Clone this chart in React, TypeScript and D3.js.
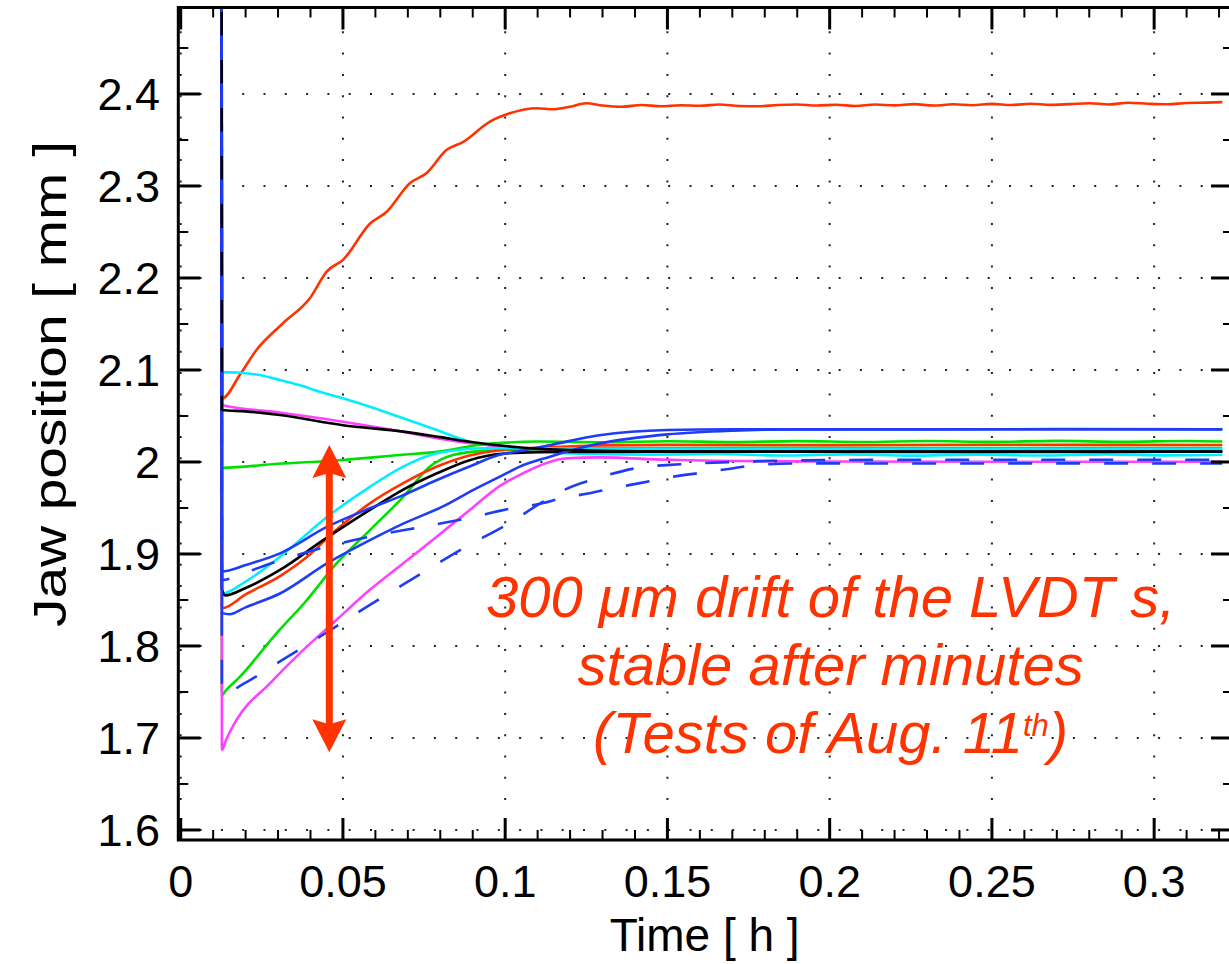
import React from "react";
import * as d3 from "d3";

type Pt = [number, number];

// ---------- data (time [h], jaw position [mm]) ----------
const SPIKE_TIME = 0.01262;
const SPIKE_VALUE = 2.62;

const redUpper: Pt[] = [
  [0.0127, 2.069], [0.0183, 2.095], [0.0234, 2.122], [0.0316, 2.151], [0.0398, 2.178],
  [0.045, 2.207], [0.0501, 2.22], [0.0583, 2.259], [0.0635, 2.272], [0.0706, 2.303],
  [0.0758, 2.314], [0.0819, 2.339], [0.0871, 2.348], [0.0953, 2.37], [0.1014, 2.379],
  [0.1097, 2.3845], [0.1148, 2.3834], [0.12, 2.3862], [0.125, 2.3899], [0.13, 2.3875],
  [0.136, 2.3862], [0.142, 2.388], [0.148, 2.3866], [0.154, 2.3878], [0.16, 2.3872],
  [0.166, 2.3885], [0.172, 2.387], [0.178, 2.3866], [0.184, 2.388], [0.19, 2.3886],
  [0.196, 2.3874], [0.202, 2.3883], [0.208, 2.387], [0.214, 2.3886], [0.22, 2.3876],
  [0.226, 2.389], [0.232, 2.3874], [0.238, 2.3888], [0.244, 2.3878], [0.25, 2.3892],
  [0.256, 2.388], [0.262, 2.3894], [0.268, 2.3882], [0.274, 2.389], [0.28, 2.39],
  [0.286, 2.3886], [0.292, 2.3904], [0.298, 2.3894], [0.304, 2.3888], [0.31, 2.3902],
  [0.316, 2.3906], [0.321, 2.3912],
];

const cyanUpper: Pt[] = [
  [0.0127, 2.0975], [0.0172, 2.0972], [0.0234, 2.095], [0.0306, 2.089], [0.037, 2.083],
  [0.0429, 2.0764], [0.05, 2.0692], [0.0583, 2.06], [0.0686, 2.0475], [0.0789, 2.0348],
  [0.0891, 2.022], [0.0994, 2.016], [0.11, 2.0115], [0.125, 2.0088], [0.145, 2.008],
  [0.165, 2.0086], [0.185, 2.0071], [0.205, 2.0082], [0.225, 2.0069], [0.245, 2.008],
  [0.265, 2.007], [0.285, 2.0083], [0.305, 2.0072], [0.321, 2.0078],
];

const magentaUpper: Pt[] = [
  [0.0127, 2.062], [0.03, 2.054], [0.05, 2.0438], [0.065, 2.035], [0.079, 2.0258],
  [0.09, 2.02], [0.0994, 2.0167], [0.11, 2.0135], [0.13, 2.0124], [0.18, 2.0121],
  [0.24, 2.0123], [0.321, 2.0121],
];

const blackUpper: Pt[] = [
  [0.0127, 2.0565], [0.02, 2.055], [0.0306, 2.051], [0.05, 2.04], [0.0686, 2.033],
  [0.08, 2.027], [0.089, 2.022], [0.104, 2.016], [0.12, 2.013], [0.15, 2.0115],
  [0.2, 2.0112], [0.25, 2.0113], [0.321, 2.0112],
];

const greenFlat: Pt[] = [
  [0.0127, 1.9938], [0.03, 1.998], [0.05, 2.0022], [0.0676, 2.0076], [0.079, 2.011],
  [0.093, 2.019], [0.1, 2.021], [0.11, 2.0222], [0.13, 2.0215], [0.15, 2.0226],
  [0.17, 2.0216], [0.19, 2.0227], [0.21, 2.0217], [0.23, 2.0228], [0.25, 2.0218],
  [0.27, 2.0229], [0.29, 2.0219], [0.31, 2.0228], [0.321, 2.0222],
];

const greenSteep: Pt[] = [
  [0.0127, 1.7467], [0.014, 1.752], [0.0183, 1.7667], [0.0286, 1.81], [0.0389, 1.85],
  [0.0481, 1.89], [0.0583, 1.926], [0.0686, 1.962], [0.0768, 1.995], [0.0839, 2.0076],
  [0.0943, 2.0123], [0.11, 2.014], [0.13, 2.015], [0.18, 2.0153], [0.24, 2.0151],
  [0.321, 2.0152],
];

const redLower: Pt[] = [
  [0.0127, 1.841], [0.02, 1.856], [0.0306, 1.876], [0.04, 1.9], [0.046, 1.92],
  [0.0583, 1.955], [0.0686, 1.977], [0.079, 1.995], [0.089, 2.007], [0.099, 2.013],
  [0.114, 2.016], [0.13, 2.018], [0.15, 2.0186], [0.2, 2.0183], [0.25, 2.0187],
  [0.321, 2.0185],
];

const cyanLower: Pt[] = [
  [0.0127, 1.857], [0.02, 1.87], [0.0306, 1.897], [0.0452, 1.9405], [0.0583, 1.973],
  [0.0686, 1.995], [0.079, 2.0094], [0.0943, 2.0149], [0.11, 2.0148], [0.13, 2.0142],
  [0.17, 2.014], [0.23, 2.0141], [0.321, 2.014],
];

const magentaLower: Pt[] = [
  [0.0127, 1.687], [0.014, 1.698], [0.0172, 1.7196], [0.0275, 1.7594], [0.0378, 1.7957],
  [0.048, 1.8283], [0.0583, 1.861], [0.0686, 1.8899], [0.0789, 1.9188], [0.0891, 1.9478],
  [0.0984, 1.974], [0.1045, 1.986], [0.1128, 1.999], [0.119, 2.004], [0.129, 2.005],
  [0.15, 2.0025], [0.2, 2.0005], [0.25, 2.0003], [0.321, 2.0003],
];

const blackLower: Pt[] = [
  [0.0127, 1.862], [0.0137, 1.855], [0.02, 1.863], [0.0306, 1.8826], [0.0439, 1.915],
  [0.0583, 1.948], [0.0686, 1.97], [0.079, 1.9877], [0.089, 2.002], [0.099, 2.009],
  [0.114, 2.011], [0.15, 2.0113], [0.22, 2.011], [0.321, 2.0111],
];

const blueA: Pt[] = [
  [0.0127, 1.881], [0.02, 1.888], [0.0306, 1.9007], [0.0452, 1.9297], [0.0583, 1.9497],
  [0.0686, 1.964], [0.079, 1.9804], [0.089, 1.995], [0.098, 2.0076], [0.1045, 2.012],
  [0.114, 2.0185], [0.129, 2.029], [0.15, 2.0348], [0.17, 2.0356], [0.22, 2.0353],
  [0.27, 2.0357], [0.321, 2.0355],
];

const blueB: Pt[] = [
  [0.0127, 1.836], [0.015, 1.8345], [0.02, 1.842], [0.0306, 1.857], [0.0452, 1.89],
  [0.0583, 1.915], [0.0686, 1.933], [0.081, 1.952], [0.0904, 1.97], [0.0984, 1.984],
  [0.1045, 1.995], [0.1138, 2.0058], [0.129, 2.02], [0.15, 2.03], [0.17, 2.034],
  [0.19, 2.0354], [0.25, 2.0356], [0.321, 2.0354],
];

const blueDashedShallow: Pt[] = [
  [0.0127, 1.8717], [0.02, 1.88], [0.0306, 1.893], [0.0429, 1.906], [0.0614, 1.921],
  [0.0753, 1.93], [0.0907, 1.9405], [0.102, 1.9497], [0.11, 1.954], [0.118, 1.961],
  [0.126, 1.966], [0.134, 1.972], [0.1415, 1.977], [0.15, 1.983], [0.162, 1.989],
  [0.17, 1.993], [0.178, 1.997], [0.195, 1.9985], [0.23, 1.9983], [0.27, 1.9985],
  [0.321, 1.9983],
];

const blueDashedSteep: Pt[] = [
  [0.0127, 1.75], [0.014, 1.749], [0.0188, 1.7576], [0.0296, 1.781], [0.0429, 1.81],
  [0.0562, 1.84], [0.0722, 1.8745], [0.088, 1.908], [0.1015, 1.934], [0.1117, 1.957],
  [0.1184, 1.97], [0.129, 1.983], [0.1415, 1.994], [0.154, 1.9975], [0.175, 2.0005],
  [0.2, 2.002], [0.25, 2.0025], [0.321, 2.0024],
];

// axis ticks and labels
const xTicks = [0, 0.05, 0.1, 0.15, 0.2, 0.25, 0.3];
const xTickLabels = ["0", "0.05", "0.1", "0.15", "0.2", "0.25", "0.3"];
const yTicks = [1.6, 1.7, 1.8, 1.9, 2.0, 2.1, 2.2, 2.3, 2.4];
const yTickLabels = ["1.6", "1.7", "1.8", "1.9", "2", "2.1", "2.2", "2.3", "2.4"];
const xMinorStep = 0.01;
const yMinorStep = 0.05;

const X_DOMAIN: [number, number] = [-0.00074, 0.3243];
const Y_DOMAIN: [number, number] = [1.5891, 2.494];

// annotation (data coordinates)
const ARROW_TIME = 0.0458;
const ARROW_TOP = 2.0185;
const ARROW_BOTTOM = 1.6845;
const NOTE_TIME = 0.2003;
const NOTE_LINE_VALUES = [1.8318, 1.7576, 1.6837];

// ---------- styling ----------
const W = 1229;
const H = 964;
const PLOT = { left: 178.3, right: 1233, top: 7.5, bottom: 840 };
const FONT = "'Liberation Sans', Arial, Helvetica, sans-serif";
const NOTE_RED = "#ff3300";
const RED = "#ff3300";
const CYAN = "#00eeff";
const MAGENTA = "#ff40ff";
const GREEN = "#00e000";
const BLUE = "#1e3cf5";
const BLACK = "#000000";

const SERIES: { data: Pt[]; color: string; dashed?: boolean }[] = [
  { data: redUpper, color: RED },
  { data: cyanUpper, color: CYAN },
  { data: magentaUpper, color: MAGENTA },
  { data: greenFlat, color: GREEN },
  { data: greenSteep, color: GREEN },
  { data: redLower, color: RED },
  { data: cyanLower, color: CYAN },
  { data: magentaLower, color: MAGENTA },
  { data: blackLower, color: BLACK },
  { data: blueB, color: BLUE },
  { data: blueA, color: BLUE },
  { data: blackUpper, color: BLACK },
  { data: blueDashedSteep, color: BLUE, dashed: true },
  { data: blueDashedShallow, color: BLUE, dashed: true },
];

export default function App() {
  const x = d3.scaleLinear().domain(X_DOMAIN).range([PLOT.left, PLOT.right]);
  const y = d3.scaleLinear().domain(Y_DOMAIN).range([PLOT.bottom, PLOT.top]);
  const line = d3
    .line<Pt>()
    .x((d) => x(d[0]))
    .y((d) => y(d[1]))
    .curve(d3.curveMonotoneX);

  const xMinor = d3.range(0, 0.3205, xMinorStep).filter((t) => !xTicks.some((m) => Math.abs(m - t) < 1e-6));
  const yMinor = d3.range(1.6, 2.4501, yMinorStep).filter((v) => !yTicks.some((m) => Math.abs(m - v) < 1e-6));

  const MAJ = 22;
  const MIN = 10;

  // arrow geometry from scales
  const ax = x(ARROW_TIME);
  const aTop = y(ARROW_TOP);
  const aBot = y(ARROW_BOTTOM);
  const headLen = 33;
  const headHalf = 17;
  const shaftHalf = 3.5;
  const arrowPath = [
    `M${ax},${aTop}`,
    `L${ax + headHalf},${aTop + headLen}`,
    `L${ax + shaftHalf},${aTop + headLen - 4}`,
    `L${ax + shaftHalf},${aBot - headLen + 4}`,
    `L${ax + headHalf},${aBot - headLen}`,
    `L${ax},${aBot}`,
    `L${ax - headHalf},${aBot - headLen}`,
    `L${ax - shaftHalf},${aBot - headLen + 4}`,
    `L${ax - shaftHalf},${aTop + headLen - 4}`,
    `L${ax - headHalf},${aTop + headLen}`,
    "Z",
  ].join(" ");

  const nx = x(NOTE_TIME);

  return (
    <svg
      width={W}
      height={H}
      viewBox={`0 0 ${W} ${H}`}
      style={{ position: "absolute", left: 0, top: 0, display: "block", background: "#fff" }}
      fontFamily={FONT}
    >
      <defs>
        <clipPath id="plotClip">
          <rect x={PLOT.left} y={PLOT.top} width={PLOT.right - PLOT.left} height={PLOT.bottom - PLOT.top} />
        </clipPath>
      </defs>
      <rect x={0} y={0} width={W} height={H} fill="#fff" />

      {/* grid */}
      <g stroke="#222" strokeWidth={2} strokeDasharray="2 19.3" fill="none">
        {xTicks.map((t) => (
          <line key={"gx" + t} x1={x(t)} x2={x(t)} y1={PLOT.top + 2.5} y2={PLOT.bottom} />
        ))}
        {yTicks.map((v) => (
          <line key={"gy" + v} x1={PLOT.left} x2={PLOT.right} y1={y(v)} y2={y(v)} />
        ))}
      </g>

      {/* data lines */}
      <g clipPath="url(#plotClip)" fill="none" strokeLinejoin="round">
        {SERIES.map((s, i) => (
          <path
            key={i}
            d={line([[SPIKE_TIME, SPIKE_VALUE] as Pt, ...s.data]) || ""}
            stroke={s.color}
            strokeWidth={2.6}
            strokeDasharray={s.dashed ? "24 24" : undefined}
          />
        ))}
      </g>

      {/* frame and ticks */}
      <g stroke="#000" fill="none">
        <rect
          x={PLOT.left}
          y={PLOT.top}
          width={PLOT.right - PLOT.left}
          height={PLOT.bottom - PLOT.top}
          strokeWidth={3}
        />
        {xTicks.map((t) => (
          <g key={"xt" + t} strokeWidth={3}>
            <line x1={x(t)} x2={x(t)} y1={PLOT.bottom} y2={PLOT.bottom - MAJ} />
            <line x1={x(t)} x2={x(t)} y1={PLOT.top} y2={PLOT.top + MAJ} />
          </g>
        ))}
        {xMinor.map((t) => (
          <g key={"xm" + t} strokeWidth={2}>
            <line x1={x(t)} x2={x(t)} y1={PLOT.bottom} y2={PLOT.bottom - MIN} />
            <line x1={x(t)} x2={x(t)} y1={PLOT.top} y2={PLOT.top + MIN} />
          </g>
        ))}
        {yTicks.map((v) => (
          <g key={"yt" + v} strokeWidth={3}>
            <line x1={PLOT.left} x2={PLOT.left + MAJ} y1={y(v)} y2={y(v)} />
            <line x1={PLOT.right} x2={PLOT.right - MAJ} y1={y(v)} y2={y(v)} />
          </g>
        ))}
        {yMinor.map((v) => (
          <g key={"ym" + v} strokeWidth={2}>
            <line x1={PLOT.left} x2={PLOT.left + MIN} y1={y(v)} y2={y(v)} />
            <line x1={PLOT.right} x2={PLOT.right - MIN} y1={y(v)} y2={y(v)} />
          </g>
        ))}
      </g>

      {/* tick labels */}
      <g fontSize={45} fill="#000">
        {xTicks.map((t, i) => (
          <text key={"xl" + t} x={x(t)} y={897} textAnchor="middle">
            {xTickLabels[i]}
          </text>
        ))}
        {yTicks.map((v, i) => (
          <text key={"yl" + v} x={160} y={y(v) + 16} textAnchor="end">
            {yTickLabels[i]}
          </text>
        ))}
      </g>

      {/* axis labels */}
      <text x={(PLOT.left + PLOT.right) / 2 - 1} y={951} fontSize={46} textAnchor="middle" fill="#000">
        Time [ h ]
      </text>
      <text
        transform="translate(66,384) rotate(-90)"
        fontSize={46}
        textAnchor="middle"
        textLength={486}
        lengthAdjust="spacingAndGlyphs"
        fill="#000"
      >
        Jaw position [ mm ]
      </text>

      {/* annotation */}
      <path d={arrowPath} fill={NOTE_RED} stroke="none" />
      <g fill={NOTE_RED} fontSize={58} fontStyle="italic" textAnchor="middle">
        <text x={nx} y={y(NOTE_LINE_VALUES[0])}>300 μm drift of the LVDT s,</text>
        <text x={nx} y={y(NOTE_LINE_VALUES[1])}>stable after minutes</text>
        <text x={nx} y={y(NOTE_LINE_VALUES[2])}>
          <tspan>(Tests of Aug. 11</tspan>
          <tspan fontSize={31} dy={-17}>th</tspan>
          <tspan dy={17}>)</tspan>
        </text>
      </g>
    </svg>
  );
}
